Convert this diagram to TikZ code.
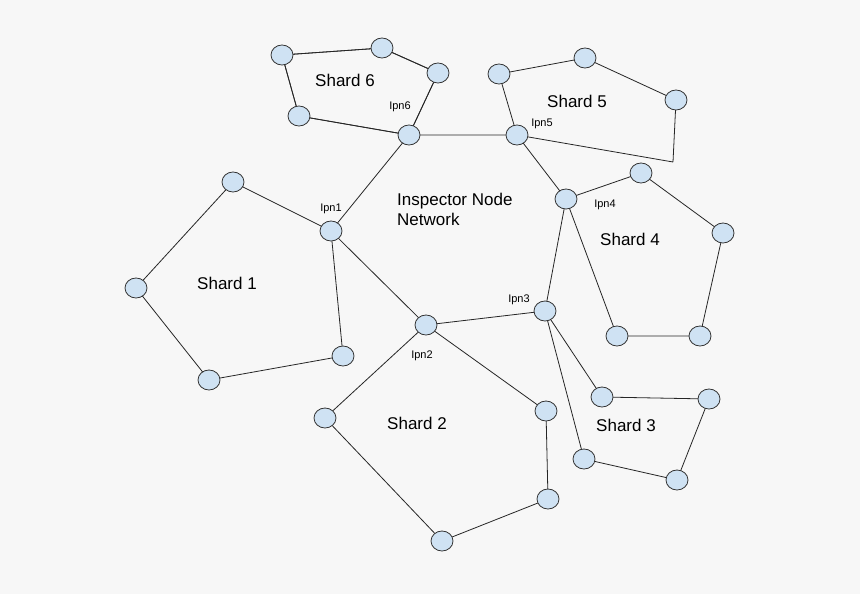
\documentclass[tikz,border=0pt]{standalone}
\usepackage{fontspec}
\setmainfont{Liberation Sans}
\usetikzlibrary{shapes.geometric}
\definecolor{nodefill}{RGB}{207,226,243}
\definecolor{bg}{RGB}{247,247,247}
\begin{document}
\begin{tikzpicture}[x=1pt,y=-1pt,
  v/.style={ellipse,draw=black!80,fill=nodefill,minimum width=22pt,minimum height=20pt,inner sep=0pt,line width=0.8pt},
  e/.style={line width=0.8pt,black!85},
  lab/.style={font=\fontsize{17}{20}\selectfont},
  small/.style={font=\fontsize{11}{13}\selectfont}]
\useasboundingbox[fill=bg] (0,0) rectangle (860,594);
\coordinate (h) at (673,162);
\draw[e] (282,55)--(382,48)--(438,73)--(409,135)--(299,116)--cycle;
\foreach \n/\x/\y in {a/282/55,b/382/48,c/438/73,d/299/116,ipnsix/409/135,
 e/499/74,f/585/58,g/676/100,ipnfive/517/135,
 ipnfour/566/199,i/641/173,j/723/233,k/700/336,l/617/336,
 ipnthree/545/311,ipntwo/426/325,ipnone/331/231,
 m/233/182,n/136/288,o/209/380,p/343/356,
 q/325/418,r/442/541,s/548/499,t/546/411,
 u/602/397,vv/709/399,w/677/480,xx/584/459}
 \coordinate (\n) at (\x,\y);
\draw[e] (a)--(b) (b)--(c) (c)--(ipnsix) (ipnsix)--(d) (d)--(a)
 (ipnsix)--(ipnfive) (ipnsix)--(ipnone)
 (ipnfive)--(e) (e)--(f) (f)--(g) (g)--(h) (h)--(ipnfive)
 (ipnfive)--(ipnfour)
 (ipnfour)--(i) (i)--(j) (j)--(k) (k)--(l) (l)--(ipnfour)
 (ipnfour)--(ipnthree) (ipnthree)--(ipntwo) (ipntwo)--(ipnone)
 (ipnone)--(m) (m)--(n) (n)--(o) (o)--(p) (p)--(ipnone)
 (ipntwo)--(q) (q)--(r) (r)--(s) (s)--(t) (t)--(ipntwo)
 (ipnthree)--(u) (u)--(vv) (vv)--(w) (w)--(xx) (xx)--(ipnthree);
\foreach \n in {a,b,c,d,ipnsix,e,f,g,ipnfive,ipnfour,i,j,k,l,ipnthree,ipntwo,ipnone,m,n,o,p,q,r,s,t,u,vv,w,xx}
 \node[v] (N\n) at (\n) {};
\node[lab] (s6) at (345,80) {Shard 6};
\node[lab] (s5) at (577,101) {Shard 5};
\node[lab] (s4) at (630,239) {Shard 4};
\node[lab] (s1) at (227,283) {Shard 1};
\node[lab] (s2) at (417,423) {Shard 2};
\node[lab] (s3) at (626,425) {Shard 3};
\node[lab,align=left,anchor=north west,inner sep=0pt] (inw) at (397,193) {Inspector Node\\Network};
\node[small] (l6) at (400,107) {Ipn6};
\node[small] (l5) at (542,124) {Ipn5};
\node[small] (l4) at (605,205) {Ipn4};
\node[small] (l3) at (519,300) {Ipn3};
\node[small] (l2) at (422,356) {Ipn2};
\node[small] (l1) at (331,209) {Ipn1};
\end{tikzpicture}
\end{document}
